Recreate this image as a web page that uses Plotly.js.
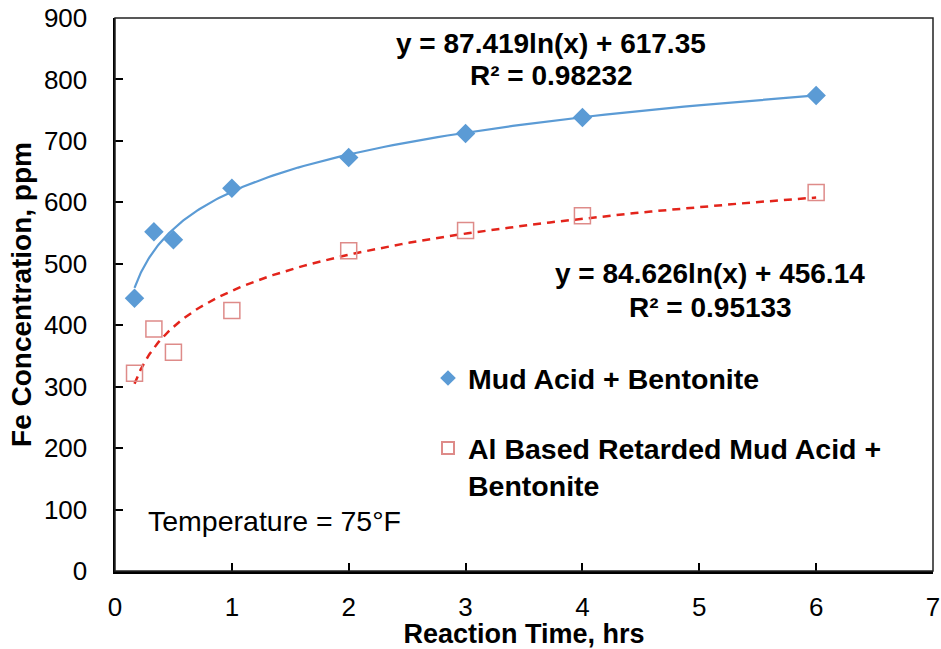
<!DOCTYPE html>
<html>
<head>
<meta charset="utf-8">
<script src="https://cdn.plot.ly/plotly-3.0.1.min.js"></script>
<style>html,body{margin:0;padding:0;background:#fff}#chart{width:941px;height:649px}</style>
</head>
<body>
<div id="chart"></div>
<script>
// Reaction time (hrs)
const timeHrs = [0.167, 0.333, 0.5, 1, 2, 3, 4, 6];
// Fe concentration, ppm
const mudAcid = [444, 552, 539, 623, 673, 712, 738, 774];
const alRetarded = [322, 394, 356, 424, 521, 554, 578, 616];
// Logarithmic trendline coefficients shown on the chart: y = a ln(x) + b
const fitMud = {a: 87.419, b: 617.35};
const fitAl = {a: 84.626, b: 456.14};
const xTicks = [0, 1, 2, 3, 4, 5, 6, 7];
const yTicks = [0, 100, 200, 300, 400, 500, 600, 700, 800, 900];

function trend(fit) {
  const xs = [], ys = [];
  const x0 = timeHrs[0], x1 = timeHrs[timeHrs.length - 1];
  for (let i = 0; i <= 120; i++) {
    const x = x0 * Math.pow(x1 / x0, i / 120);
    xs.push(x); ys.push(fit.a * Math.log(x) + fit.b);
  }
  return {x: xs, y: ys};
}
const tMud = trend(fitMud), tAl = trend(fitAl);

const font = 'Liberation Sans, Arial, sans-serif';
const data = [
  {x: tMud.x, y: tMud.y, mode: 'lines', line: {color: '#5B9BD5', width: 2.2}, showlegend: false, hoverinfo: 'skip'},
  {x: tAl.x, y: tAl.y, mode: 'lines', line: {color: '#E3241B', width: 2.5, dash: '8px,6px'}, showlegend: false, hoverinfo: 'skip'},
  {x: timeHrs, y: mudAcid, mode: 'markers', name: '<b>Mud Acid + Bentonite</b>', legendgroup: 'a',
   marker: {symbol: 'diamond', size: 15, color: '#5B9BD5'}},
  {x: timeHrs, y: alRetarded, mode: 'markers', name: '<b>Al Based Retarded Mud Acid +<br>Bentonite</b>', legendgroup: 'b',
   marker: {symbol: 'square-open', size: 16, color: '#DE8B89', line: {width: 1.5, color: '#DE8B89'}}}
];

const W = 818, H = 553, L = 115, T = 18;
const px = v => (v - L) / W;
const py = v => (T + H - v) / H;

const layout = {
  width: 941, height: 649,
  margin: {l: L, r: 8, t: T, b: 78},
  paper_bgcolor: '#fff', plot_bgcolor: '#fff',
  font: {family: font, color: '#000'},
  xaxis: {
    range: [0, 7], tickvals: xTicks, ticktext: xTicks.map(String),
    showgrid: false, zeroline: false, showline: true, linecolor: '#000', linewidth: 2.5,
    ticks: 'inside', ticklen: 8, tickwidth: 2, tickcolor: '#000',
    tickfont: {size: 26, family: font}, ticklabelstandoff: 11,
    title: {text: '<b>Reaction Time, hrs</b>', font: {size: 27, family: font}, standoff: 2}
  },
  yaxis: {
    range: [0, 900], tickvals: yTicks, ticktext: yTicks.map(String),
    showgrid: false, zeroline: false, showline: true, linecolor: '#000', linewidth: 2.5,
    ticks: 'inside', ticklen: 8, tickwidth: 2, tickcolor: '#000',
    tickfont: {size: 26, family: font}, ticklabelstandoff: 20,
    title: {text: '<b>Fe Concentration, ppm</b>', font: {size: 28, family: font}, standoff: 4}
  },
  shapes: [{type: 'rect', xref: 'paper', yref: 'paper', x0: 0, x1: 1, y0: 0, y1: 1,
            line: {color: '#222', width: 1.5}}],
  legend: {x: px(428), y: py(353), xanchor: 'left', yanchor: 'top', bgcolor: 'rgba(0,0,0,0)',
           font: {size: 28.5, family: font}, tracegroupgap: 30, traceorder: 'grouped',
           itemwidth: 30, itemsizing: 'constant', valign: 'top'},
  annotations: [
    {xref: 'paper', yref: 'paper', x: px(551), y: py(43), xanchor: 'center', yanchor: 'middle',
     text: '<b>y = 87.419ln(x) + 617.35</b>', showarrow: false, font: {size: 28, family: font}},
    {xref: 'paper', yref: 'paper', x: px(551), y: py(75), xanchor: 'center', yanchor: 'middle',
     text: '<b>R² = 0.98232</b>', showarrow: false, font: {size: 28, family: font}},
    {xref: 'paper', yref: 'paper', x: px(710), y: py(273), xanchor: 'center', yanchor: 'middle',
     text: '<b>y = 84.626ln(x) + 456.14</b>', showarrow: false, font: {size: 28, family: font}},
    {xref: 'paper', yref: 'paper', x: px(710), y: py(307), xanchor: 'center', yanchor: 'middle',
     text: '<b>R² = 0.95133</b>', showarrow: false, font: {size: 28, family: font}},
    {xref: 'paper', yref: 'paper', x: px(146), y: py(521), xanchor: 'left', yanchor: 'middle',
     text: 'Temperature = 75°F', showarrow: false, font: {size: 28.5, family: font}}
  ]
};

Plotly.newPlot('chart', data, layout, {displayModeBar: false, staticPlot: true});
</script>
</body>
</html>
